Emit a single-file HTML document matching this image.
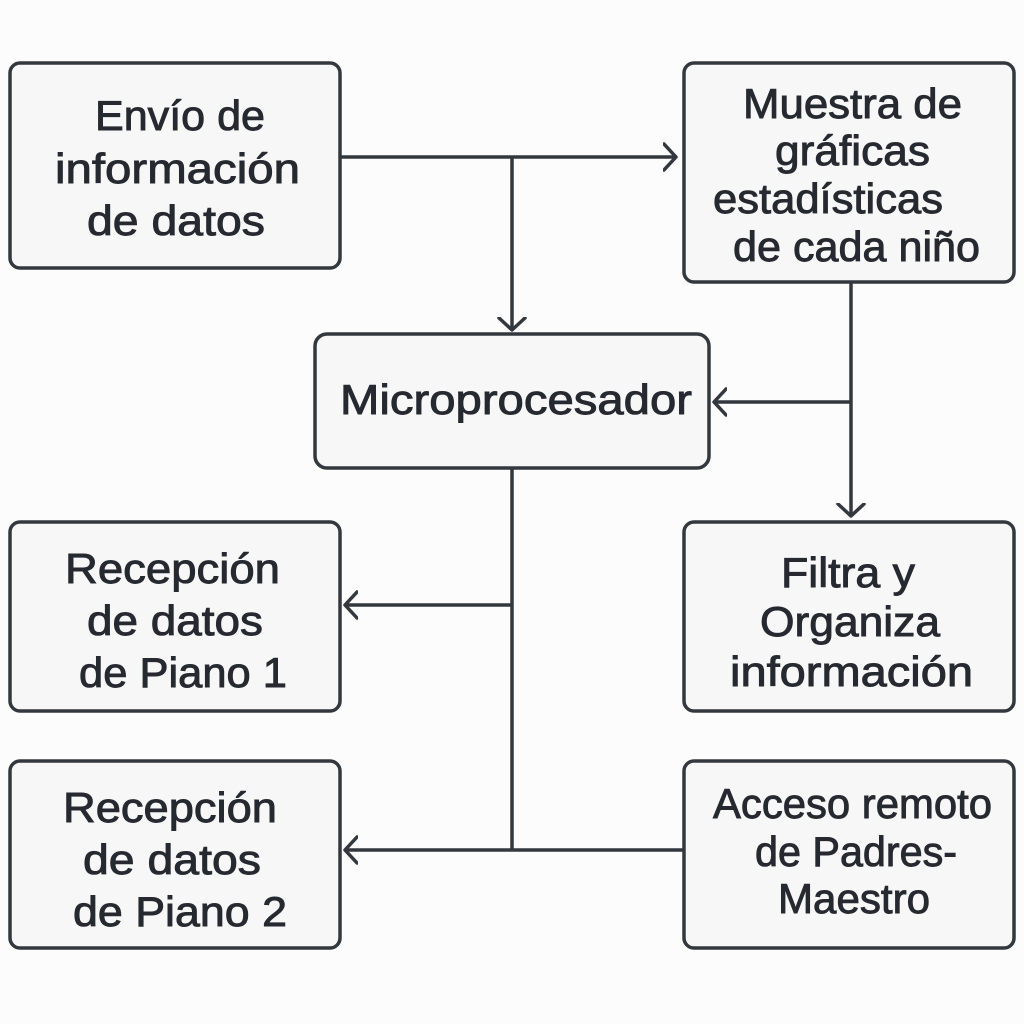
<!DOCTYPE html>
<html><head><meta charset="utf-8"><style>
html,body{margin:0;padding:0;background:#fcfcfc;}
svg{display:block}
text{font-family:"Liberation Sans",sans-serif;font-size:42px;fill:#262a30;stroke:#262a30;stroke-width:0.9px;}
</style></head><body>
<svg width="1024" height="1024" viewBox="0 0 1024 1024">
<defs><marker id="a" markerWidth="20" markerHeight="30" refX="13" refY="15" orient="auto" markerUnits="userSpaceOnUse">
<path d="M1,2 L13,15 L1,28" fill="none" stroke="#33383e" stroke-width="3.5" stroke-linecap="round" stroke-linejoin="round"/></marker></defs>
<g fill="#f7f7f7" stroke="#33383e" stroke-width="3.5">
<rect x="10" y="63" width="330" height="205" rx="10"/>
<rect x="684" y="63" width="330" height="219" rx="10"/>
<rect x="315" y="334" width="394" height="134" rx="12"/>
<rect x="10" y="522" width="330" height="189" rx="10"/>
<rect x="684" y="522" width="330" height="189" rx="10"/>
<rect x="10" y="761" width="330" height="187" rx="10"/>
<rect x="684" y="761" width="330" height="187" rx="10"/>
</g>
<g fill="none" stroke="#33383e" stroke-width="3.5">
<path d="M340,157 H676" marker-end="url(#a)"/>
<path d="M512,157 V330" marker-end="url(#a)"/>
<path d="M851,282 V516" marker-end="url(#a)"/>
<path d="M851,402 H714" marker-end="url(#a)"/>
<path d="M512,468 V850"/>
<path d="M512,605 H345" marker-end="url(#a)"/>
<path d="M684,850 H345" marker-end="url(#a)"/>
</g>
<text x="95" y="130" textLength="170" lengthAdjust="spacingAndGlyphs">Envío de</text>
<text x="55" y="183" textLength="245" lengthAdjust="spacingAndGlyphs">información</text>
<text x="87" y="235" textLength="178" lengthAdjust="spacingAndGlyphs">de datos</text>
<text x="743" y="118" textLength="219" lengthAdjust="spacingAndGlyphs">Muestra de</text>
<text x="775" y="165" textLength="155" lengthAdjust="spacingAndGlyphs">gráficas</text>
<text x="713" y="213" textLength="230" lengthAdjust="spacingAndGlyphs">estadísticas</text>
<text x="733" y="261" textLength="247" lengthAdjust="spacingAndGlyphs">de cada niño</text>
<text x="340" y="414" textLength="352" lengthAdjust="spacingAndGlyphs">Microprocesador</text>
<text x="65" y="583" textLength="215" lengthAdjust="spacingAndGlyphs">Recepción</text>
<text x="87" y="635" textLength="176" lengthAdjust="spacingAndGlyphs">de datos</text>
<text x="79" y="687" textLength="208" lengthAdjust="spacingAndGlyphs">de Piano 1</text>
<text x="781" y="587" textLength="134" lengthAdjust="spacingAndGlyphs">Filtra y</text>
<text x="760" y="636" textLength="180" lengthAdjust="spacingAndGlyphs">Organiza</text>
<text x="730" y="686" textLength="243" lengthAdjust="spacingAndGlyphs">información</text>
<text x="63" y="822" textLength="214" lengthAdjust="spacingAndGlyphs">Recepción</text>
<text x="83" y="874" textLength="178" lengthAdjust="spacingAndGlyphs">de datos</text>
<text x="73" y="926" textLength="214" lengthAdjust="spacingAndGlyphs">de Piano 2</text>
<text x="713" y="818" textLength="279" lengthAdjust="spacingAndGlyphs">Acceso remoto</text>
<text x="755" y="866" textLength="202" lengthAdjust="spacingAndGlyphs">de Padres-</text>
<text x="778" y="913" textLength="152" lengthAdjust="spacingAndGlyphs">Maestro</text>
</svg>
</body></html>
